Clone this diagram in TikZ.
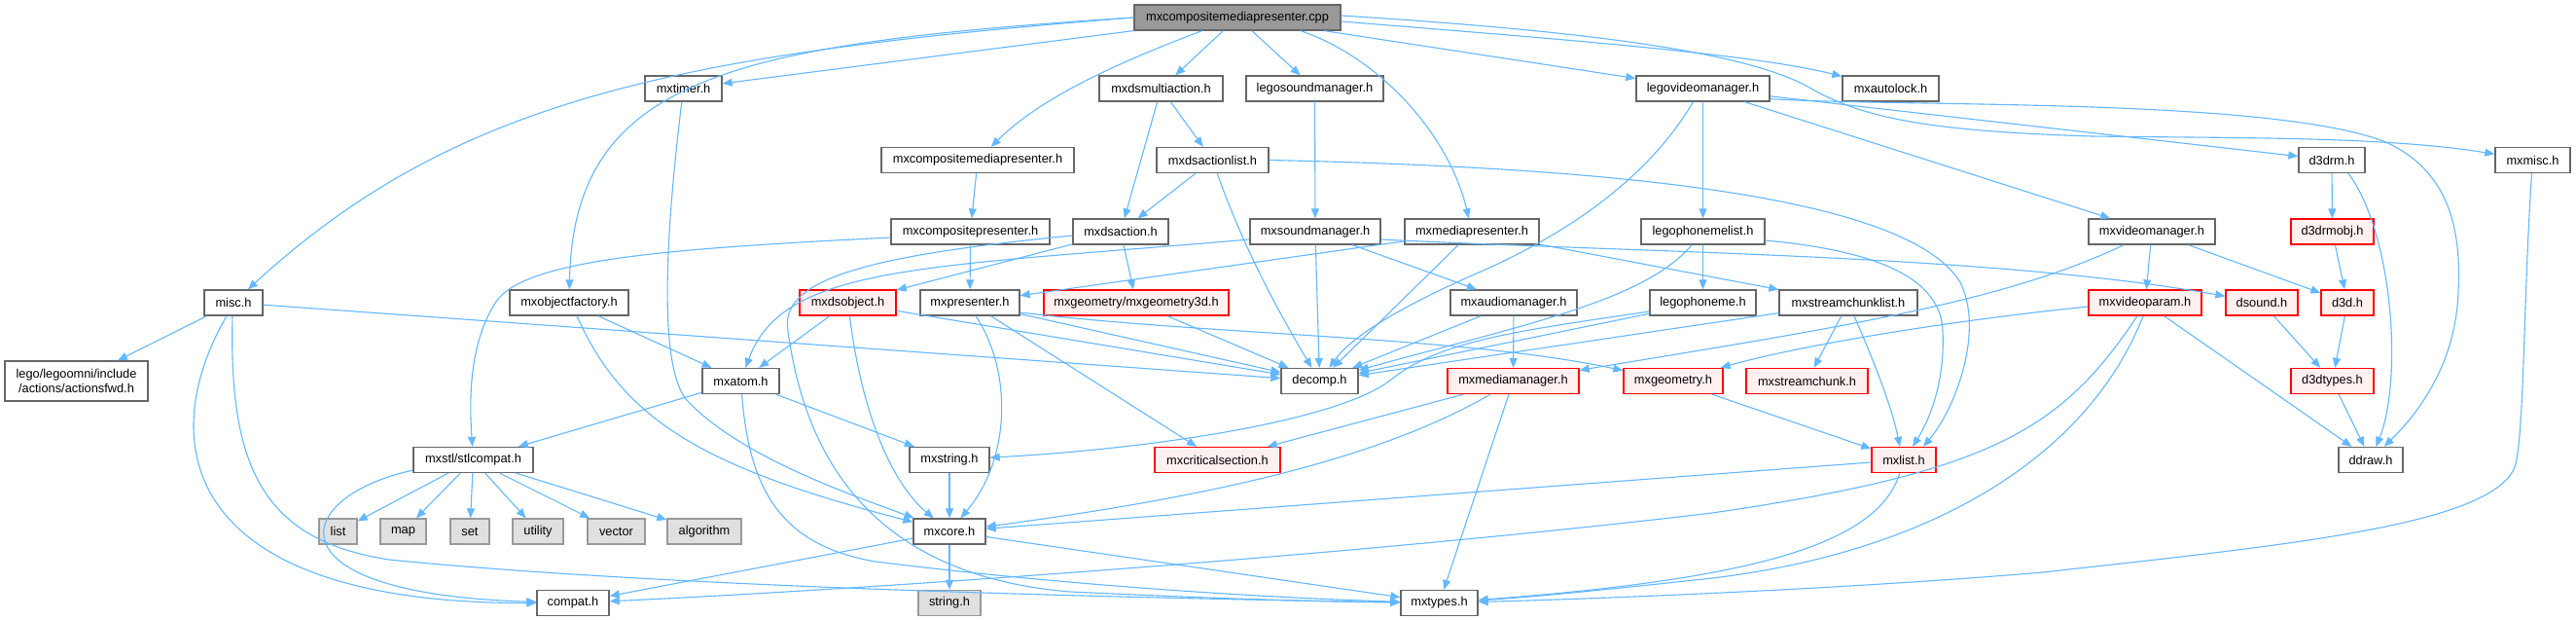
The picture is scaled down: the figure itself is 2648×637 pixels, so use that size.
\documentclass[tikz,border=0pt]{standalone}
\usepackage{fontspec}
\setmainfont{Liberation Sans}
\usetikzlibrary{arrows.meta}
\definecolor{edgec}{HTML}{63B8FF}
\definecolor{gforty}{HTML}{666666}
\definecolor{gsixty}{HTML}{999999}
\definecolor{pinkf}{HTML}{FFF0F0}
\definecolor{sysf}{HTML}{E0E0E0}
\begin{document}
\begin{tikzpicture}[x=1pt,y=-1pt,
  nd/.style={draw=gforty, fill=white, line width=1.3pt, minimum height=26pt, inner sep=0pt, text=black, font=\fontsize{12.8}{15}\selectfont},
  rd/.style={nd, draw=red, fill=pinkf},
  sy/.style={nd, draw=gsixty, fill=sysf},
  rt/.style={nd, fill=gsixty},
  e/.style={draw=edgec, line width=1.1pt, -{Triangle[length=10pt,width=8pt]}}]
\fill[white] (0,0) rectangle (2648,637);
\useasboundingbox (0,0) rectangle (2648,637);
% row 0
\node[rt, minimum width=212pt] (cpp) at (1272,18) {mxcompositemediapresenter.cpp};
% row 1
\node[nd, minimum width=79pt] (mxtimer) at (702.5,91) {mxtimer.h};
\node[nd, minimum width=127pt] (mxdsmultiaction) at (1193.5,91) {mxdsmultiaction.h};
\node[nd, minimum width=141pt] (legosoundmanager) at (1351.5,91) {legosoundmanager.h};
\node[nd, minimum width=137pt] (legovideomanager) at (1750.5,91) {legovideomanager.h};
\node[nd, minimum width=99pt] (mxautolock) at (1943.5,91) {mxautolock.h};
% row 2
\node[nd, minimum width=198pt] (mxcmph) at (1005,164.5) {mxcompositemediapresenter.h};
\node[nd, minimum width=115pt] (mxdsactionlist) at (1246.5,164.5) {mxdsactionlist.h};
\node[nd, minimum width=68pt] (d3drm) at (2397,164.5) {d3drm.h};
\node[nd, minimum width=77pt] (mxmisc) at (2603.5,164.5) {mxmisc.h};
% row 3
\node[nd, minimum width=163pt] (mxcompositepresenter) at (997.5,238) {mxcompositepresenter.h};
\node[nd, minimum width=98pt] (mxdsaction) at (1152,238) {mxdsaction.h};
\node[nd, minimum width=134pt] (mxsoundmanager) at (1352,238) {mxsoundmanager.h};
\node[nd, minimum width=138pt] (mxmediapresenter) at (1513,238) {mxmediapresenter.h};
\node[nd, minimum width=127pt] (legophonemelist) at (1750.5,238) {legophonemelist.h};
\node[nd, minimum width=130pt] (mxvideomanager) at (2212,238) {mxvideomanager.h};
\node[rd, minimum width=85pt] (d3drmobj) at (2397.5,238) {d3drmobj.h};
% row 4
\node[nd, minimum width=60pt] (misc) at (240,311) {misc.h};
\node[nd, minimum width=122pt] (mxobjectfactory) at (585,311) {mxobjectfactory.h};
\node[rd, minimum width=99pt] (mxdsobject) at (871.5,311) {mxdsobject.h};
\node[nd, minimum width=102pt] (mxpresenter) at (997,311) {mxpresenter.h};
\node[rd, minimum width=190pt] (mxgeomtd) at (1168,311) {mxgeometry/mxgeometry3d.h};
\node[nd, minimum width=130pt] (mxaudiomanager) at (1556,311) {mxaudiomanager.h};
\node[nd, minimum width=109pt] (legophoneme) at (1750.5,311) {legophoneme.h};
\node[nd, minimum width=142pt] (mxstreamchunklist) at (1900,311) {mxstreamchunklist.h};
\node[rd, minimum width=116pt] (mxvideoparam) at (2205,311) {mxvideoparam.h};
\node[rd, minimum width=74pt] (dsound) at (2325,311) {dsound.h};
\node[rd, minimum width=54pt] (dthreed) at (2413,311) {d3d.h};
% row 5
\node[nd, minimum width=147pt, minimum height=41pt, align=center] (actfwd) at (78.5,391.5) {lego/legoomni/include\\/actions/actionsfwd.h};
\node[nd, minimum width=79pt] (mxatom) at (761.5,391.5) {mxatom.h};
\node[nd, minimum width=79pt] (decomp) at (1356.5,391.5) {decomp.h};
\node[rd, minimum width=135pt] (mxmediamanager) at (1555.5,391.5) {mxmediamanager.h};
\node[rd, minimum width=102pt] (mxgeometry) at (1720,391.5) {mxgeometry.h};
\node[rd, minimum width=125pt] (mxstreamchunk) at (1857.5,391.5) {mxstreamchunk.h};
\node[rd, minimum width=85pt] (dtypes) at (2397.5,391.5) {d3dtypes.h};
% row 6
\node[nd, minimum width=123pt] (stlcompat) at (486.5,472.5) {mxstl/stlcompat.h};
\node[nd, minimum width=82pt] (mxstring) at (976,472.5) {mxstring.h};
\node[rd, minimum width=129pt] (mxcritsec) at (1251.5,472.5) {mxcriticalsection.h};
\node[rd, minimum width=66pt] (mxlist) at (1957,472.5) {mxlist.h};
\node[nd, minimum width=66pt] (ddraw) at (2437,472.5) {ddraw.h};
% row 7
\node[sy, minimum width=39pt] (nlist) at (347.5,546) {list};
\node[sy, minimum width=47pt] (nmap) at (414.5,546) {map};
\node[sy, minimum width=40pt] (nset) at (483,546) {set};
\node[sy, minimum width=52pt] (nutility) at (553,546) {utility};
\node[sy, minimum width=59pt] (nvector) at (633.5,546) {vector};
\node[sy, minimum width=76pt] (nalgorithm) at (724,546) {algorithm};
\node[nd, minimum width=74pt] (mxcore) at (976,546) {mxcore.h};
% row 8
\node[nd, minimum width=74pt] (compat) at (589,619.5) {compat.h};
\node[sy, minimum width=64pt] (stringh) at (976,619.5) {string.h};
\node[nd, minimum width=79pt] (mxtypes) at (1479.5,619.5) {mxtypes.h};

% ---- edges from cpp
\draw[e] (cpp.west) .. controls (700,55) and (470,100) .. (misc);
\draw[e] (cpp.west) .. controls (750,45) and (590,80) .. (mxobjectfactory);
\draw[e] (cpp) -- (mxtimer);
\draw[e] (cpp) .. controls (1120,75) and (1060,110) .. (mxcmph);
\draw[e] (cpp) -- (mxdsmultiaction);
\draw[e] (cpp) -- (legosoundmanager);
\draw[e] ([xshift=65pt]cpp.south) .. controls (1420,60) and (1490,140) .. (mxmediapresenter);
\draw[e] (cpp) -- (legovideomanager);
\draw[e] ([yshift=-4pt]cpp.east) .. controls (1600,40) and (1800,55) .. (mxautolock);
\draw[e] ([yshift=2pt]cpp.east) .. controls (1600,30) and (1790,50) .. (1860,90)
   .. controls (1920,125) and (2000,135) .. (2150,140)
   .. controls (2300,142) and (2450,140) .. (mxmisc);
% ---- misc
\draw[e] (misc) -- (actfwd);
\draw[e] ([xshift=-7pt]misc.south) .. controls (160,450) and (180,620) .. (compat);
\draw[e] ([xshift=-1pt]misc.south) .. controls (235,480) and (270,555) .. (400,575)
   .. controls (700,605) and (1200,615) .. (mxtypes);
\draw[e] (misc) -- (decomp);
% ---- mxobjectfactory, mxtimer
\draw[e] (mxobjectfactory) -- (mxatom);
\draw[e] ([xshift=8pt]mxobjectfactory.south) .. controls (640,430) and (720,480) .. (mxcore);
\draw[e] (mxtimer) .. controls (683,250) and (678,375) .. (705,410)
   .. controls (760,470) and (880,510) .. (mxcore);
% ---- mxatom, stlcompat
\draw[e] (mxatom) -- (stlcompat);
\draw[e] (mxatom) -- (mxstring);
\draw[e] (mxatom) .. controls (770,500) and (800,560) .. (900,577)
   .. controls (1100,602) and (1300,614) .. (mxtypes);
\foreach \t in {nlist,nmap,nset,nutility,nvector,nalgorithm}
  \draw[e] (stlcompat) -- (\t);
\draw[e] ([yshift=3pt]stlcompat.south west) .. controls (300,510) and (270,610) .. (compat);
% ---- mxstring, mxcore
\draw[e] (mxstring) -- (mxcore);
\draw[e] (mxcore) -- (compat);
\draw[e] (mxcore) -- (stringh);
\draw[e] (mxcore) -- (mxtypes);
% ---- composite presenter chain
\draw[e] (mxcmph) -- (mxcompositepresenter);
\draw[e] (mxcompositepresenter) -- (mxpresenter);
\draw[e] ([yshift=-6pt]mxcompositepresenter.west) .. controls (700,255) and (540,265) .. (510,310)
   .. controls (480,355) and (483,420) .. (stlcompat);
% ---- mxpresenter
\draw[e] (mxpresenter) -- (decomp);
\draw[e] ([xshift=6pt]mxpresenter.south) .. controls (1040,380) and (1040,470) .. (mxcore);
\draw[e] (mxpresenter) -- (mxcritsec);
\draw[e] ([yshift=-10pt]mxpresenter.east) .. controls (1250,345) and (1500,345) .. (mxgeometry);
% ---- ds actions
\draw[e] (mxdsmultiaction) -- (mxdsaction);
\draw[e] (mxdsmultiaction) -- (mxdsactionlist);
\draw[e] (mxdsactionlist) -- (mxdsaction);
\draw[e] (mxdsactionlist) .. controls (1280,260) and (1320,330) .. (decomp);
\draw[e] (mxdsactionlist.east) .. controls (1650,172) and (1960,200) .. (2015,290)
   .. controls (2040,340) and (2010,420) .. ([xshift=20pt]mxlist.north);
\draw[e] (mxdsaction) -- (mxdsobject);
\draw[e] (mxdsaction) -- (mxgeomtd);
\draw[e] ([yshift=-4pt]mxdsaction.west) .. controls (900,262) and (800,285) .. (810,340)
   .. controls (825,450) and (880,590) .. (1100,608)
   .. controls (1250,615) and (1350,618) .. (mxtypes);
\draw[e] (mxdsobject) -- (mxatom);
\draw[e] ([xshift=2pt]mxdsobject.south) .. controls (885,420) and (915,495) .. (mxcore);
\draw[e] (mxdsobject) -- (decomp);
\draw[e] (mxgeomtd) -- (decomp);
% ---- sound
\draw[e] (legosoundmanager) -- (mxsoundmanager);
\draw[e] (mxsoundmanager) -- (decomp);
\draw[e] (mxsoundmanager) -- (mxaudiomanager);
\draw[e] ([yshift=-8pt]mxsoundmanager.east) .. controls (1700,260) and (2050,262) .. (dsound);
\draw[e] ([yshift=-8pt]mxsoundmanager.west) .. controls (950,275) and (805,272) .. (mxatom);
\draw[e] (mxaudiomanager) -- (decomp);
\draw[e] (mxaudiomanager) -- (mxmediamanager);
\draw[e] (mxmediamanager) -- (mxcritsec);
\draw[e] (mxmediamanager) .. controls (1420,470) and (1250,510) .. (mxcore);
\draw[e] (mxmediamanager) -- (mxtypes);
% ---- media presenter
\draw[e] (mxmediapresenter) -- (mxpresenter);
\draw[e] (mxmediapresenter) -- (decomp);
\draw[e] (mxmediapresenter) -- (mxstreamchunklist);
\draw[e] (mxstreamchunklist) -- (decomp);
\draw[e] (mxstreamchunklist) -- (mxstreamchunk);
\draw[e] ([xshift=6pt]mxstreamchunklist.south) .. controls (1930,380) and (1945,420) .. ([xshift=-4pt]mxlist.north);
% ---- video manager
\draw[e] ([xshift=-10pt]legovideomanager.south) .. controls (1690,190) and (1600,245) .. (1520,280)
   .. controls (1440,315) and (1390,345) .. (decomp);
\draw[e] (legovideomanager) -- (legophonemelist);
\draw[e] (legovideomanager) -- (mxvideomanager);
\draw[e] (legovideomanager) -- (d3drm);
\draw[e] ([yshift=3pt]legovideomanager.south east) .. controls (1950,110) and (2330,100) .. (2450,145)
   .. controls (2520,175) and (2530,240) .. (2527,300)
   .. controls (2524,380) and (2480,430) .. (ddraw);
\draw[e] (legophonemelist) -- (legophoneme);
\draw[e] (legophonemelist) .. controls (1690,310) and (1560,335) .. (decomp);
\draw[e] ([yshift=-9pt]legophonemelist.east) .. controls (1900,255) and (1995,275) .. (1997,340)
   .. controls (2000,400) and (1978,440) .. ([xshift=9pt]mxlist.north);
\draw[e] (legophoneme) -- (decomp);
\draw[e] ([yshift=-9pt]legophoneme.west) .. controls (1560,340) and (1480,350) .. (1430,390)
   .. controls (1380,430) and (1200,460) .. (mxstring);
\draw[e] (mxgeometry) -- (mxlist);
\draw[e] (mxlist) -- (mxcore);
\draw[e] (mxlist) .. controls (1930,560) and (1800,595) .. (mxtypes);
\draw[e] (mxvideomanager) .. controls (2060,310) and (1900,335) .. (mxmediamanager);
\draw[e] (mxvideomanager) -- (mxvideoparam);
\draw[e] (mxvideomanager) -- (dthreed);
\draw[e] ([yshift=-4pt]mxvideoparam.west) .. controls (2000,330) and (1850,355) .. (mxgeometry);
\draw[e] ([xshift=-8pt]mxvideoparam.south) .. controls (2120,440) and (2050,485) .. (1760,527)
   .. controls (1400,570) and (900,605) .. (compat);
\draw[e] ([xshift=-2pt]mxvideoparam.south) .. controls (2150,460) and (2000,565) .. (1760,594)
   .. controls (1650,606) and (1580,613) .. (mxtypes);
\draw[e] (mxvideoparam) -- (ddraw);
% ---- direct3d
\draw[e] (d3drm) -- (d3drmobj);
\draw[e] ([xshift=17pt]d3drm.south) .. controls (2460,240) and (2470,390) .. (ddraw);
\draw[e] (d3drmobj) -- (dthreed);
\draw[e] (dthreed) -- (dtypes);
\draw[e] (dsound) -- (dtypes);
\draw[e] (dtypes) -- (ddraw);
\draw[e] (mxmisc) .. controls (2594,300) and (2595,450) .. (2585,480)
   .. controls (2560,540) and (2350,560) .. (2100,588)
   .. controls (1900,605) and (1650,615) .. (mxtypes);
\end{tikzpicture}
\end{document}
